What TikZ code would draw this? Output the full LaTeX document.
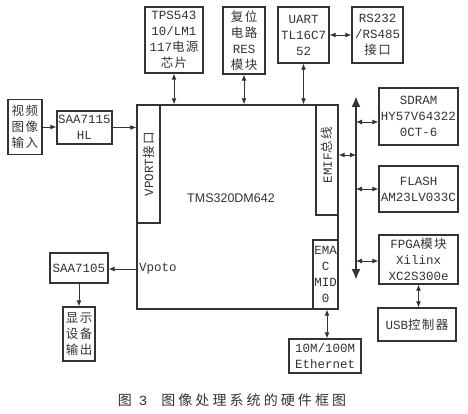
\documentclass[tikz,border=0pt]{standalone}
\usepackage{fontspec}
\setmainfont{Liberation Mono}
\newfontfamily\cjk{Noto Sans CJK SC}[LetterSpace=12]
\newfontfamily\capfont{Noto Sans CJK SC}[LetterSpace=22]
\newfontfamily\chipfont{Liberation Sans}
\usetikzlibrary{arrows.meta}
\definecolor{ink}{HTML}{333333}
\newcommand{\zhtext}[1]{{\cjk #1}}

\begin{document}
\begin{tikzpicture}[x=1pt,y=-1pt,
  box/.style={draw=ink,line width=1.2pt,inner sep=0pt,align=center,text=ink,font=\fontsize{12.5}{16}\selectfont},
  link/.style={draw=ink,line width=0.9pt,-{Latex[length=6pt,width=5pt]}},
  dlink/.style={link,{Latex[length=6pt,width=5pt]}-{Latex[length=6pt,width=5pt]}},
  bus/.style={draw=ink,line width=2.6pt,{Latex[length=11pt,width=9pt]}-{Latex[length=11pt,width=9pt]}},
  lbl/.style={inner sep=0pt,text=ink,font=\fontsize{12.5}{16}\selectfont}]
  \useasboundingbox (0,0) rectangle (468,414);

  % DSP core
  \node[box,minimum width=201,minimum height=204] (dsp) at (237.5,207) {};
  \node[lbl,font=\chipfont\fontsize{12.5}{15}\selectfont] (chip) at (231,198) {TMS320DM642};
  \node[box,minimum width=23,minimum height=118] (vport) at (148.5,164) {};
  \node[lbl,rotate=90] (vportlbl) at (vport.center) {VPORT\zhtext{接口}};
  \node[box,minimum width=22,minimum height=110] (emif) at (327,160) {};
  \node[lbl,rotate=90] (emiflbl) at (327,155) {EMIF\zhtext{总线}};
  \node[box,minimum width=25,minimum height=69] (emac) at (325.5,274.5) {EMA\\C\\MID\\0};

  % Video input side
  \node[box,minimum width=34,minimum height=55] (vin) at (25,127) {\zhtext{视频}\\\zhtext{图像}\\\zhtext{输入}};
  \node[box,minimum width=55,minimum height=33] (saa15) at (84.5,127.5) {SAA7115\\HL};
  \draw[link] (vin.east) -- (vin.east -| saa15.west);
  \draw[link] (saa15.east) -- (saa15.east -| vport.west);

  % Top row
  \node[box,minimum width=58,minimum height=66] (tps) at (174,40) {TPS543\\10/LM1\\117\zhtext{电源}\\\zhtext{芯片}};
  \node[box,minimum width=42,minimum height=67] (res) at (244,40.5) {\zhtext{复位}\\\zhtext{电路}\\RES\\\zhtext{模块}};
  \node[box,minimum width=51,minimum height=56] (uart) at (303.5,35) {UART\\TL16C7\\52};
  \node[box,minimum width=51,minimum height=56] (rs) at (377.5,35) {RS232\\/RS485\\\zhtext{接口}};
  \draw[dlink] (tps.south) -- (tps.south |- dsp.north);
  \draw[dlink] (res.south) -- (res.south |- dsp.north);
  \draw[dlink] (uart.south) -- (uart.south |- dsp.north);
  \draw[dlink] (uart.east) -- (rs.west);

  % EMIF bus and memories
  \coordinate (bustop) at (356,96);
  \coordinate (busbot) at (356,280);
  \draw[bus] (bustop) -- (busbot);
  \node[box,minimum width=79,minimum height=57] (sdram) at (418.5,116.5) {SDRAM\\HY57V64322\\0CT-6};
  \node[box,minimum width=79,minimum height=46] (flash) at (418.5,189) {FLASH\\AM23LV033C};
  \node[box,minimum width=79,minimum height=49] (fpga) at (418.5,259.5) {FPGA\zhtext{模块}\\Xilinx\\XC2S300e};
  \node[box,minimum width=78,minimum height=33] (usb) at (417,324.5) {USB\zhtext{控制器}};
  \draw[dlink] ([yshift=5pt]emif.east) -- ([yshift=5pt]emif.east -| bustop);
  \draw[dlink] ([yshift=-5.5pt]sdram.west -| bustop) -- ([yshift=-5.5pt]sdram.west);
  \draw[dlink] (flash.west -| bustop) -- (flash.west);
  \draw[dlink] ([yshift=-1.5pt]fpga.west -| bustop) -- ([yshift=-1.5pt]fpga.west);
  \draw[dlink] (fpga.south) -- (fpga.south |- usb.north);

  % Ethernet
  \node[box,minimum width=72,minimum height=34] (eth) at (325,356) {10M/100M\\Ethernet};
  \draw[dlink] ([xshift=1.5pt]emac.south) -- ([xshift=1.5pt]emac.south |- eth.north);

  % Video output side
  \node[box,minimum width=58,minimum height=30] (saa05) at (79,268) {SAA7105};
  \node[box,minimum width=32,minimum height=54] (disp) at (79,334) {\zhtext{显示}\\\zhtext{设备}\\\zhtext{输出}};
  \node[lbl,anchor=west] (vpoto) at (139,269) {Vpoto};
  \draw[link] ([yshift=-1pt]saa05.east -| dsp.west) -- ([yshift=-1pt]saa05.east);
  \draw[link] (saa05.south) -- (disp.north);

  % Caption
  \node[lbl,font=\fontsize{14}{16}\selectfont] (caption) at (232,400) {{\capfont 图}\hspace{7pt}3\hspace{14pt}{\capfont 图像处理系统的硬件框图}};
\end{tikzpicture}
\end{document}
